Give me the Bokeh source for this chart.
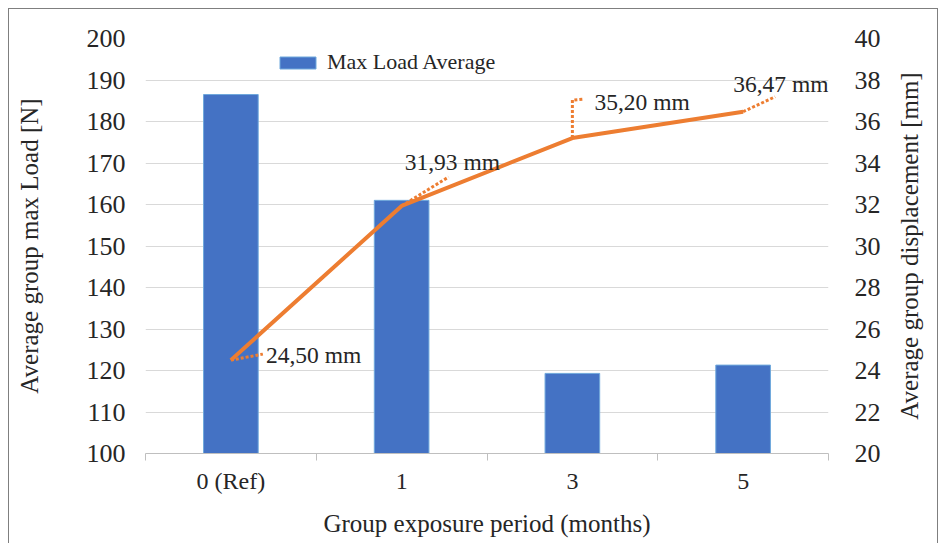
from bokeh.plotting import figure
from bokeh.layouts import row
from bokeh.models import Range1d, LinearAxis, FixedTicker, ColumnDataSource
from bokeh.embed import file_html
from bokeh.resources import INLINE
from bokeh.core.properties import value

# ---- data ----
categories = ["0 (Ref)", "1", "3", "5"]
max_load = [186.5, 161.0, 119.3, 121.3]          # N (left axis)
displacement = [24.50, 31.93, 35.20, 36.47]      # mm (right axis)
disp_labels = ["24,50 mm", "31,93 mm", "35,20 mm", "36,47 mm"]
left_ticks = [100, 110, 120, 130, 140, 150, 160, 170, 180, 190, 200]
right_ticks = [20, 22, 24, 26, 28, 30, 32, 34, 36, 38, 40]

FONT = "Liberation Serif"
TXT = "#262626"
FW, FH = 683, 415
X0, X1 = 0, len(categories)
YL0, YL1 = 100, 200
YR0, YR1 = 20, 40

xc = [i + 0.5 for i in range(len(categories))]

p = figure(frame_width=FW, frame_height=FH, output_backend="svg", toolbar_location=None,
           x_range=Range1d(X0, X1), y_range=Range1d(YL0, YL1),
           min_border_left=136, min_border_right=60, min_border_top=29, min_border_bottom=90)
p.extra_y_ranges = {"right": Range1d(YR0, YR1)}
p.outline_line_color = None
p.background_fill_color = "white"
p.border_fill_color = "white"

# bars
src = ColumnDataSource(dict(x=xc, top=max_load))
p.vbar(x="x", top="top", bottom=YL0, width=0.32, source=src, fill_color="#4472C4",
       line_color="#6FA8DC", line_width=1, legend_label="Max Load Average")

# line
lsrc = ColumnDataSource(dict(x=xc, y=displacement, lab=disp_labels))
p.line(x="x", y="y", source=lsrc, y_range_name="right", line_color="#ED7D31", line_width=4)

# leader lines (screen-pixel offsets converted to data units)
sx = (X1 - X0) / FW
sy = (YR1 - YR0) / FH
leader_px = [[(0, 0), (32, 6)],
             [(0, 0), (47, 29)],
             [(0, 0), (0, 38), (11, 39)],
             [(0, 0), (32, 15)]]
label_off = [(35, 5), (3, 44), (22, 36), (-10, 28)]
lx, ly = [], []
for i, pts in enumerate(leader_px):
    lx.append([xc[i] + dx * sx for dx, dy in pts])
    ly.append([displacement[i] + dy * sy for dx, dy in pts])
p.multi_line(xs=lx, ys=ly, y_range_name="right", line_color="#ED7D31", line_width=3,
             line_dash="3 2")
p.text(x=xc, y=displacement, text=disp_labels, y_range_name="right",
       x_offset=[o[0] for o in label_off], y_offset=[-o[1] for o in label_off],
       text_font=value(FONT), text_font_size="23.5px", text_color=TXT,
       text_align="left", text_baseline="middle")

# grid
p.xgrid.visible = False
p.ygrid.ticker = FixedTicker(ticks=left_ticks)
p.ygrid.grid_line_color = "#d9d9d9"
p.ygrid.grid_line_width = 1

# x axis
xa = p.xaxis[0]
xa.ticker = FixedTicker(ticks=xc, minor_ticks=list(range(len(categories) + 1)))
xa.major_label_overrides = {x: c for x, c in zip(xc, categories)}
xa.major_tick_line_color = None
xa.minor_tick_in = 0
xa.minor_tick_out = 7
xa.minor_tick_line_color = "#bfbfbf"
xa.axis_line_color = "#bfbfbf"
xa.axis_label = "Group exposure period (months)"
xa.major_label_standoff = 7
xa.axis_label_standoff = 13

# left axis
ya = p.yaxis[0]
ya.ticker = FixedTicker(ticks=left_ticks)
ya.axis_line_color = None
ya.major_tick_line_color = None
ya.minor_tick_line_color = None
ya.major_label_standoff = 14
ya.axis_label = "Average group max Load [N]"
ya.axis_label_standoff = 41

# right axis (ticks only; its title is drawn by the narrow panel beside it)
ra = LinearAxis(y_range_name="right", ticker=FixedTicker(ticks=right_ticks))
ra.axis_line_color = None
ra.major_tick_line_color = None
ra.minor_tick_line_color = None
ra.major_label_standoff = 20
p.add_layout(ra, "right")

for ax in [xa, ya, ra]:
    ax.major_label_text_font = FONT
    ax.major_label_text_font_size = "26px"
    ax.major_label_text_color = TXT
    ax.axis_label_text_font = FONT
    ax.axis_label_text_font_size = "25px"
    ax.axis_label_text_font_style = "normal"
    ax.axis_label_text_color = TXT
xa.major_label_text_font_size = "24px"

# legend
lg = p.legend[0]
lg.location = (130, 378)
lg.padding = 0
lg.margin = 0
lg.border_line_color = None
lg.background_fill_alpha = 0
lg.glyph_width = 45
lg.glyph_height = 15
lg.label_height = 20
lg.label_standoff = 7
lg.label_text_font = FONT
lg.label_text_font_size = "22px"
lg.label_text_color = TXT

# narrow panel carrying the right-hand axis title (reads bottom-to-top)
p2 = figure(frame_width=1, frame_height=FH, output_backend="svg", toolbar_location=None,
            x_range=Range1d(0, 1), y_range=Range1d(YR0, YR1),
            min_border_left=44, min_border_right=4, min_border_top=29, min_border_bottom=90)
p2.outline_line_color = None
p2.border_fill_color = "white"
p2.xaxis.visible = False
p2.xgrid.visible = False
p2.ygrid.visible = False
ta = p2.yaxis[0]
ta.ticker = FixedTicker(ticks=[])
ta.axis_line_color = None
ta.major_tick_line_color = None
ta.minor_tick_line_color = None
ta.axis_label = "Average group displacement [mm]"
ta.axis_label_standoff = 10
ta.axis_label_text_font = FONT
ta.axis_label_text_font_size = "25px"
ta.axis_label_text_font_style = "normal"
ta.axis_label_text_color = TXT

layout = row(p, p2, margin=(8, 0, 0, 8),
             styles={"border-left": "1px solid #7f7f7f", "border-top": "1px solid #7f7f7f",
                     "border-right": "1px solid #7f7f7f", "background": "white"})

open("out.html", "w").write(file_html(layout, INLINE))
